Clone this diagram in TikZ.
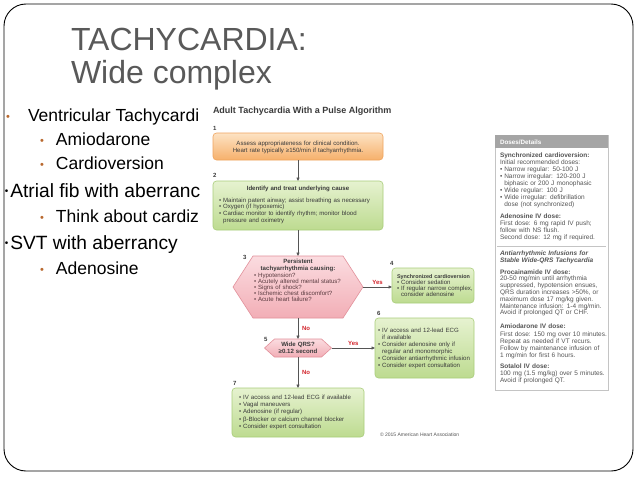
\documentclass[tikz,border=0pt]{standalone}
\usepackage{fontspec}
\setmainfont{Liberation Sans}
\usetikzlibrary{arrows.meta}
\definecolor{titlegray}{HTML}{595959}
\definecolor{bulletc}{HTML}{B9692F}
\definecolor{arrowc}{HTML}{555555}
\definecolor{yesno}{HTML}{D2232A}
\definecolor{orgtop}{HTML}{FDE3C4}
\definecolor{orgbot}{HTML}{F6B06B}
\definecolor{orgdraw}{HTML}{EFA45E}
\definecolor{grntop}{HTML}{E6F2D0}
\definecolor{grnbot}{HTML}{BDDB90}
\definecolor{grndraw}{HTML}{A9CD7A}
\definecolor{pnktop}{HTML}{FBDCE0}
\definecolor{pnkbot}{HTML}{F2AEB6}
\definecolor{pnkdraw}{HTML}{E2909A}
\definecolor{txtc}{HTML}{3A3A3A}
\definecolor{hextxt}{HTML}{5A3B40}
\definecolor{dosehead}{HTML}{A5A5A5}
\definecolor{dosedraw}{HTML}{C4C4C4}
\definecolor{dosetxt}{HTML}{555555}
\newcommand{\myfs}[2]{\fontsize{#1pt}{#2pt}\selectfont}
\newcommand{\bul}{•\hspace{2pt}}
\newcommand{\cont}{\hphantom{•\hspace{2pt}}}
\newcommand{\smalldot}{\raisebox{2.5pt}{\myfs{10}{10}•}\hspace{1.8pt}}
\begin{document}
\begin{tikzpicture}[x=1pt,y=-1pt,
  every node/.style={inner sep=0pt, outer sep=0pt},
  ttl/.style={anchor=base west, text=titlegray, font=\myfs{32}{32}},
  item/.style={anchor=base west, text=black, font=\myfs{17.5}{20}},
  bigitem/.style={anchor=base west, text=black, font=\myfs{19.2}{22}},
  dot/.style={anchor=base west, text=bulletc, font=\myfs{11}{11}},
  lst/.style={anchor=base west, align=left, text width=#1},
  ctr/.style={anchor=base, align=center, text width=#1},
  obox/.style={draw=orgdraw, top color=orgtop, bottom color=orgbot, rounded corners=3.5pt, line width=0.6pt, anchor=north west},
  gbox/.style={draw=grndraw, top color=grntop, bottom color=grnbot, rounded corners=3.5pt, line width=0.6pt, anchor=north west},
  hexs/.style={draw=pnkdraw, top color=pnktop, bottom color=pnkbot, line width=0.6pt},
  num/.style={anchor=base west, font=\bfseries\myfs{6}{6}, text=txtc},
  yn/.style={font=\bfseries\myfs{6}{6}, text=yesno},
  arr/.style={-{Triangle[length=3.5pt,width=3pt]}, draw=arrowc, line width=0.7pt},
  body/.style={font=\myfs{6.1}{#1}, text=txtc},
  dose/.style={lst=110pt, font=\myfs{6.5}{#1}, text=dosetxt}
]
\fill[white] (0,0) rectangle (638,479);
\useasboundingbox (0,0) rectangle (638,479);
\draw[line width=0.9pt, rounded corners=22pt] (4,4) rectangle (633,471);

% slide title
\node[ttl] (title1) at (71,50) {TACHYCARDIA:};
\node[ttl] (title2) at (71,83) {Wide complex};

% left list
\node[dot] (d1) at (6,120) {•};
\node[item] (v1) at (28,121) {Ventricular Tachycardi};
\node[dot] (d2) at (40,144) {•};
\node[item] (a1) at (56,145) {Amiodarone};
\node[dot] (d3) at (40,168) {•};
\node[item] (c1) at (56,169) {Cardioversion};
\node[bigitem] (at) at (5,197) {\smalldot Atrial fib with aberrancy};
\node[dot] (d4) at (40,221) {•};
\node[item] (tk) at (56,222) {Think about cardiz};
\node[bigitem] (svt) at (5,249) {\smalldot SVT with aberrancy};
\node[dot] (d5) at (40,273) {•};
\node[item] (ad) at (56,274) {Adenosine};

% image background
\fill[white] (200,96) rectangle (616,448);

% algorithm
\node[anchor=base west, font=\bfseries\myfs{9}{9}, text=txtc] (algt) at (213,113) {Adult Tachycardia With a Pulse Algorithm};

\node[num] (n1) at (213,130) {1};
\node[num] (n2) at (213,177) {2};
\node[num] (n3) at (243,259) {3};
\node[num] (n4) at (390,265) {4};
\node[num] (n5) at (264,341) {5};
\node[num] (n6) at (377,315) {6};
\node[num] (n7) at (233,385) {7};

\node[obox, minimum width=170pt, minimum height=27pt] (b1) at (213,133) {};
\node[gbox, minimum width=170pt, minimum height=49pt] (b2) at (213,181) {};
\node[gbox, minimum width=82pt, minimum height=35pt] (b4) at (392,268) {};
\node[gbox, minimum width=99pt, minimum height=60pt] (b6) at (375,318) {};
\node[gbox, minimum width=132pt, minimum height=49pt] (b7) at (232,388) {};

\node[minimum width=130pt, minimum height=62pt] (h3) at (298,287) {};
\draw[hexs] (h3.west) -- ([xshift=20pt]h3.north west) -- ([xshift=-20pt]h3.north east) -- (h3.east) -- ([xshift=-20pt]h3.south east) -- ([xshift=20pt]h3.south west) -- cycle;
\node[minimum width=67pt, minimum height=18pt] (h5) at (298,348) {};
\draw[hexs] (h5.west) -- ([xshift=10pt]h5.north west) -- ([xshift=-10pt]h5.north east) -- (h5.east) -- ([xshift=-10pt]h5.south east) -- ([xshift=10pt]h5.south west) -- cycle;

% texts
\node[ctr=168pt, body=7.6] (t1) at (298,145) {Assess appropriateness for clinical condition.\\Heart rate typically ≥150/min if tachyarrhythmia.};
\node[ctr=168pt, font=\bfseries\myfs{6.1}{7}, text=txtc] (t2a) at (298,190) {Identify and treat underlying cause};
\node[lst=166pt, body=6.7] (t2b) at (219,202) {\bul Maintain patent airway; assist breathing as necessary\\\bul Oxygen (if hypoxemic)\\\bul Cardiac monitor to identify rhythm; monitor blood\\\cont pressure and oximetry};
\node[ctr=120pt, font=\bfseries\myfs{6.1}{7.5}, text=txtc] (t3a) at (298,263) {Persistent\\tachyarrhythmia causing:};
\node[lst=100pt, font=\myfs{6.1}{6.2}, text=hextxt] (t3b) at (254,277) {\bul Hypotension?\\\bul Acutely altered mental status?\\\bul Signs of shock?\\\bul Ischemic chest discomfort?\\\bul Acute heart failure?};
\node[lst=95pt, body=6.2] (t4) at (397,278) {{\bfseries\myfs{5.4}{6.2}Synchronized cardioversion}\\\bul Consider sedation\\\bul If regular narrow complex,\\\cont consider adenosine};
\node[ctr=60pt, font=\bfseries\myfs{6.1}{7}, text=txtc] (t5) at (298,346) {Wide QRS?\\≥0.12 second};
\node[lst=100pt, body=7] (t6) at (378,332) {\bul IV access and 12-lead ECG\\\cont if available\\\bul Consider adenosine only if\\\cont regular and monomorphic\\\bul Consider antiarrhythmic infusion\\\bul Consider expert consultation};
\node[lst=128pt, body=7.4] (t7) at (239,399) {\bul IV access and 12-lead ECG if available\\\bul Vagal maneuvers\\\bul Adenosine (if regular)\\\bul β-Blocker or calcium channel blocker\\\bul Consider expert consultation};
\node[anchor=base west, font=\myfs{5}{5}, text=dosetxt] (copy) at (380,436) {© 2015 American Heart Association};

% connectors
\draw[arr] (b1.south) -- (b2.north);
\draw[arr] (b2.south) -- (h3.north);
\draw[arr] (h3.east) -- (h3.east -| b4.west) node[midway, above=2pt, yn] (y1) {Yes};
\draw[arr] (h3.south) -- (h5.north) node[midway, right=4pt, yn] (no1) {No};
\draw[arr] (h5.east) -- (h5.east -| b6.west) node[midway, above=2pt, yn] (y2) {Yes};
\draw[arr] (h5.south) -- (b7.north) node[midway, right=4pt, yn] (no2) {No};

% doses box
\node[draw=dosedraw, fill=white, line width=0.6pt, anchor=north west, minimum width=113pt, minimum height=255pt] (dd) at (495,135) {};
\node[fill=dosehead, anchor=north west, minimum width=113pt, minimum height=13pt] (ddh) at (495,135) {};
\node[anchor=base west, font=\bfseries\myfs{6.3}{6.3}, text=white] (ddt) at (500,144) {Doses/Details};
\coordinate (dv1) at (497,246);
\coordinate (dv2) at (606,246);
\draw[dosedraw, line width=0.6pt] (dv1) -- (dv2);
\node[dose=7] (s1) at (500,157) {\textbf{Synchronized cardioversion:}\\Initial recommended doses:\\\bul Narrow regular: 50-100 J\\\bul Narrow irregular: 120-200 J\\\cont biphasic or 200 J monophasic\\\bul Wide regular: 100 J\\\bul Wide irregular: defibrillation\\\cont dose (not synchronized)};
\node[dose=7] (s2) at (500,218) {\textbf{Adenosine IV dose:}\\First dose: 6 mg rapid IV push;\\follow with NS flush.\\Second dose: 12 mg if required.};
\node[dose=7] (s3) at (500,255) {\textbf{\itshape Antiarrhythmic Infusions for\\Stable Wide-QRS Tachycardia}};
\node[dose=6.8] (s4) at (500,274) {\textbf{Procainamide IV dose:}\\20-50 mg/min until arrhythmia\\suppressed, hypotension ensues,\\QRS duration increases >50\%, or\\maximum dose 17 mg/kg given.\\Maintenance infusion: 1-4 mg/min.\\Avoid if prolonged QT or CHF.};
\node[dose=7] (s5) at (500,328) {\textbf{Amiodarone IV dose:}\\[1pt]First dose: 150 mg over 10 minutes.\\Repeat as needed if VT recurs.\\Follow by maintenance infusion of\\1 mg/min for first 6 hours.};
\node[dose=7] (s6) at (500,368) {\textbf{Sotalol IV dose:}\\100 mg (1.5 mg/kg) over 5 minutes.\\Avoid if prolonged QT.};
\end{tikzpicture}
\end{document}
